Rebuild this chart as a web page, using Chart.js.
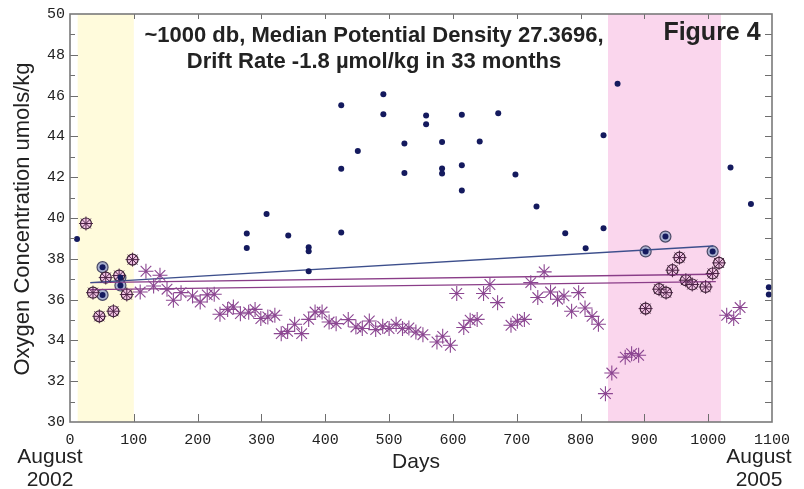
<!DOCTYPE html>
<html>
<head>
<meta charset="utf-8">
<script src="https://cdn.jsdelivr.net/npm/chart.js@4.4.1/dist/chart.umd.min.js"></script>
<style>
  html, body { margin: 0; padding: 0; background: #fff; }
  #wrap { width: 804px; height: 489px; }
</style>
</head>
<body>
<div id="wrap"><canvas id="oxyChart" width="804" height="489"></canvas></div>
<script>
// axis ranges
const xRange = [0, 1100];
const yRange = [30, 50];
const xStep = 100;
const yStep = 2;

// shaded calibration windows (days)
const yellowWindow = [12, 100];
const pinkWindow = [843, 1020];

// blue dots
const blueDays = [11, 277, 277, 308, 342, 374, 374, 374, 425, 425, 425, 451, 491, 491, 524, 524, 558, 558,
  583, 583, 583, 614, 614, 614, 642, 671, 698, 731, 776, 808, 836, 836, 858, 1035, 1067, 1095, 1095];
const blueVals = [38.97, 39.24, 38.53, 40.2, 39.14, 38.57, 38.37, 37.39, 45.53, 42.41, 39.29, 43.28, 46.07, 45.09, 43.65, 42.2, 45.03, 44.59,
  43.73, 42.43, 42.18, 45.06, 42.58, 41.35, 43.75, 45.14, 42.13, 40.56, 39.25, 38.52, 44.06, 39.5, 46.58, 42.48, 40.69, 36.6, 36.25];

// blue dots used for calibration (circled)
const blueCalDays = [51, 51, 79, 79, 902, 933, 1007];
const blueCalVals = [37.59, 36.23, 37.08, 36.69, 38.36, 39.09, 38.36];

// purple asterisks
const starDays = [110, 119, 131, 141, 152, 162, 174, 192, 204, 215, 226, 235, 247, 256, 267, 280, 290, 299, 310, 321,
  331, 341, 352, 363, 374, 384, 395, 406, 417, 436, 448, 458, 469, 479, 490, 500, 511, 521, 531, 542, 553,
  575, 584, 596, 606, 617, 627, 638, 648, 658, 670, 691, 701, 712, 722, 733, 743, 753, 764, 774, 786, 797,
  807, 818, 828, 839, 849, 870, 880, 891, 1029, 1040, 1050];
const starVals = [36.37, 37.39, 36.67, 37.19, 36.51, 35.97, 36.34, 36.18, 35.88, 36.23, 36.26, 35.28, 35.52, 35.64, 35.31, 35.38, 35.52, 35.07, 35.15, 35.23,
  34.33, 34.44, 34.79, 34.33, 35.03, 35.39, 35.39, 34.9, 34.82, 35.02, 34.66, 34.58, 34.95, 34.53, 34.69, 34.58, 34.79, 34.58, 34.61, 34.41, 34.28,
  33.92, 34.2, 33.76, 36.3, 34.63, 34.99, 35.03, 36.3, 36.74, 35.85, 34.74, 34.94, 35.03, 36.83, 36.1, 37.36, 36.37, 36.02, 36.18, 35.43, 36.34,
  35.59, 35.18, 34.79, 31.39, 32.4, 33.18, 33.35, 33.27, 35.23, 35.07, 35.61];

// asterisks used for calibration (circled)
const starCalDays = [25, 36, 46, 56, 68, 77, 89, 98, 902, 923, 934, 944, 955, 965, 975, 996, 1007, 1017];
const starCalVals = [39.73, 36.34, 35.18, 37.08, 35.43, 37.18, 36.25, 37.96, 35.56, 36.51, 36.34, 37.44, 38.06, 36.95, 36.74, 36.62, 37.28, 37.8];

// drift fits
const blueFitDays = [32, 1008];
const blueFitVals = [36.83, 38.63];
const purpleFitADays = [32, 1005];
const purpleFitAVals = [36.83, 37.24];
const purpleFitBDays = [32, 1012];
const purpleFitBVals = [36.49, 36.88];

function pts(xs, ys) {
  return xs.map((x, i) => ({ x: x, y: ys[i] }));
}

const NAVY = '#141a5e';
const PURPLE = '#8c4792';

// shaded windows, frame, inward ticks and the loose text
const decorPlugin = {
  id: 'decor',
  beforeDatasetsDraw(chart) {
    const ctx = chart.ctx;
    const a = chart.chartArea;
    const x = chart.scales.x;
    ctx.save();
    ctx.fillStyle = '#fffbdc';
    let x0 = x.getPixelForValue(yellowWindow[0]);
    let x1 = x.getPixelForValue(yellowWindow[1]);
    ctx.fillRect(x0, a.top, x1 - x0, a.bottom - a.top);
    ctx.fillStyle = '#fad6ed';
    x0 = x.getPixelForValue(pinkWindow[0]);
    x1 = x.getPixelForValue(pinkWindow[1]);
    ctx.fillRect(x0, a.top, x1 - x0, a.bottom - a.top);
    ctx.restore();
  },
  afterDatasetsDraw(chart) {
    const ctx = chart.ctx;
    const a = chart.chartArea;
    const xs = chart.scales.x;
    const ys = chart.scales.y;
    ctx.save();
    ctx.strokeStyle = '#6e6e6e';
    ctx.lineWidth = 1;
    ctx.beginPath();
    for (let v = xRange[0] + xStep; v < xRange[1]; v += xStep) {
      const px = Math.round(xs.getPixelForValue(v)) + 0.5;
      ctx.moveTo(px, a.bottom); ctx.lineTo(px, a.bottom - 8);
      ctx.moveTo(px, a.top); ctx.lineTo(px, a.top + 5);
    }
    for (let v = yRange[0] + 1; v < yRange[1]; v += 1) {
      const py = Math.round(ys.getPixelForValue(v)) + 0.5;
      const major = (v - yRange[0]) % yStep === 0;
      ctx.moveTo(a.left, py); ctx.lineTo(a.left + (major ? 8 : 5), py);
      ctx.moveTo(a.right, py); ctx.lineTo(a.right - 7, py);
    }
    ctx.stroke();
    ctx.strokeStyle = '#7a7a7a';
    ctx.lineWidth = 1.6;
    ctx.strokeRect(a.left, a.top, a.right - a.left, a.bottom - a.top);
    ctx.restore();
  },
  afterDraw(chart) {
    const ctx = chart.ctx;
    ctx.save();
    ctx.fillStyle = '#222';
    ctx.textAlign = 'center';
    ctx.textBaseline = 'middle';
    ctx.font = 'bold 22px "Liberation Sans", Arial, sans-serif';
    ctx.fillText('~1000 db, Median Potential Density 27.3696,', 374, 36);
    ctx.fillText('Drift Rate -1.8 \u00b5mol/kg in 33 months', 374, 62);
    ctx.font = 'bold 25px "Liberation Sans", Arial, sans-serif';
    ctx.fillText('Figure 4', 712, 33);

    ctx.font = '21px "Liberation Sans", Arial, sans-serif';
    ctx.fillText('Days', 416, 462);
    ctx.fillText('August', 50, 457);
    ctx.fillText('2002', 50, 480);
    ctx.fillText('August', 759, 457);
    ctx.fillText('2005', 759, 480);

    ctx.font = '22px "Liberation Sans", Arial, sans-serif';
    ctx.translate(23, 219);
    ctx.rotate(-Math.PI / 2);
    ctx.fillText('Oxygen Concentration umols/kg', 0, 0);
    ctx.restore();
  }
};

const monoFont = { family: '"Liberation Mono", "Courier New", monospace', size: 15 };

const ctx = document.getElementById('oxyChart').getContext('2d');
new Chart(ctx, {
  type: 'scatter',
  data: {
    datasets: [
      {
        // rings behind calibration asterisks
        data: pts(starCalDays, starCalVals),
        pointStyle: 'circle',
        pointRadius: 5.5,
        backgroundColor: '#f2c4e4',
        borderColor: '#3a2434',
        borderWidth: 1.2,
        order: 6
      },
      {
        // rings behind calibration dots
        data: pts(blueCalDays, blueCalVals),
        pointStyle: 'circle',
        pointRadius: 5.5,
        backgroundColor: '#a9b1cf',
        borderColor: '#4a4a66',
        borderWidth: 1.2,
        order: 6
      },
      {
        data: pts(blueFitDays, blueFitVals),
        showLine: true,
        borderColor: '#3d4f8c',
        borderWidth: 1.4,
        pointRadius: 0,
        order: 5
      },
      {
        data: pts(purpleFitADays, purpleFitAVals),
        showLine: true,
        borderColor: '#8a3d88',
        borderWidth: 1.4,
        pointRadius: 0,
        order: 5
      },
      {
        data: pts(purpleFitBDays, purpleFitBVals),
        showLine: true,
        borderColor: '#8a3d88',
        borderWidth: 1.4,
        pointRadius: 0,
        order: 5
      },
      {
        data: pts(starDays, starVals),
        pointStyle: 'star',
        pointRadius: 7.5,
        borderColor: PURPLE,
        backgroundColor: PURPLE,
        borderWidth: 1.1,
        order: 3
      },
      {
        data: pts(starCalDays, starCalVals),
        pointStyle: 'star',
        pointRadius: 7,
        borderColor: '#4e2448',
        backgroundColor: '#4e2448',
        borderWidth: 1,
        order: 2
      },
      {
        data: pts(blueDays.concat(blueCalDays), blueVals.concat(blueCalVals)),
        pointStyle: 'circle',
        pointRadius: 3,
        backgroundColor: NAVY,
        borderColor: NAVY,
        borderWidth: 0,
        order: 1
      }
    ]
  },
  options: {
    responsive: false,
    animation: false,
    events: [],
    layout: { padding: { top: 14, right: 32, left: 0, bottom: 0 } },
    plugins: {
      legend: { display: false },
      tooltip: { enabled: false },
      title: { display: false }
    },
    scales: {
      x: {
        type: 'linear',
        min: xRange[0],
        max: xRange[1],
        grid: { display: false, drawTicks: false },
        border: { display: false },
        ticks: {
          stepSize: xStep,
          padding: 9,
          color: '#222',
          maxRotation: 0,
          font: monoFont,
          callback: (v) => String(v)
        },
        afterFit(scale) { scale.height = 67; }
      },
      y: {
        type: 'linear',
        min: yRange[0],
        max: yRange[1],
        grid: { display: false, drawTicks: false },
        border: { display: false },
        ticks: {
          stepSize: yStep,
          padding: 5,
          color: '#222',
          font: monoFont,
          callback: (v) => String(v)
        },
        afterFit(scale) { scale.width = 70; }
      }
    }
  },
  plugins: [decorPlugin]
});
</script>
</body>
</html>
